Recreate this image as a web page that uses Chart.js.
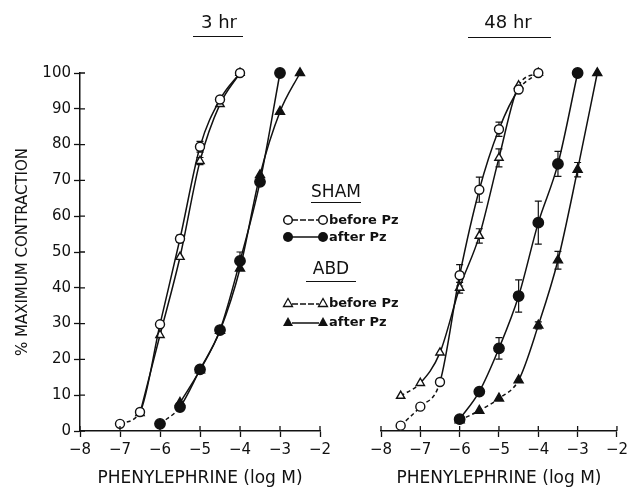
<!DOCTYPE html>
<html>
<head>
<meta charset="utf-8">
<script src="https://cdn.jsdelivr.net/npm/chart.js@4.4.1/dist/chart.umd.min.js"></script>
<style>
body { margin: 0; background: #fff; width: 632px; height: 489px; position: relative; overflow: hidden; font-family: "DejaVu Sans", sans-serif; color: #111; }
canvas { position: absolute; top: 0; }
.txt { position: absolute; white-space: nowrap; line-height: 20px; }
.rule { position: absolute; height: 0; border-top: 1.5px solid #111; }
.sym { position: absolute; }
</style>
</head>
<body>
<canvas id="graf3" width="340" height="489" style="left:0"></canvas>
<canvas id="graf48" width="302" height="489" style="left:330px"></canvas>

<div class="txt" style="left:219px;top:12px;font-size:18px;transform:translateX(-50%)">3 hr</div>
<div class="rule" style="left:193px;top:36px;width:50px"></div>
<div class="txt" style="left:508px;top:12px;font-size:18px;transform:translateX(-50%)">48 hr</div>
<div class="rule" style="left:468px;top:37px;width:83px"></div>

<!-- leyenda -->
<div class="txt" style="left:336px;top:181px;font-size:17px;transform:translateX(-50%)">SHAM</div>
<div class="rule" style="left:311px;top:202px;width:50px"></div>
<svg class="sym" style="left:280px;top:212px" width="50" height="16">
  <line x1="12" y1="8" x2="39" y2="8" stroke="#111" stroke-width="1.5" stroke-dasharray="6,2"/>
  <circle cx="8" cy="8" r="4.3" fill="#fff" stroke="#111" stroke-width="1.5"/>
  <circle cx="43" cy="8" r="4.3" fill="#fff" stroke="#111" stroke-width="1.5"/>
</svg>
<div class="txt" style="left:329px;top:210px;font-size:13px;font-weight:bold">before Pz</div>
<svg class="sym" style="left:280px;top:229px" width="50" height="16">
  <line x1="12" y1="8" x2="39" y2="8" stroke="#111" stroke-width="1.5"/>
  <circle cx="8" cy="8" r="5" fill="#111"/>
  <circle cx="43" cy="8" r="5" fill="#111"/>
</svg>
<div class="txt" style="left:329px;top:227px;font-size:13px;font-weight:bold">after Pz</div>

<div class="txt" style="left:331px;top:258px;font-size:17px;transform:translateX(-50%)">ABD</div>
<div class="rule" style="left:306px;top:281px;width:50px"></div>
<svg class="sym" style="left:280px;top:295px" width="50" height="16">
  <line x1="12" y1="9" x2="39" y2="9" stroke="#111" stroke-width="1.5" stroke-dasharray="6,2"/>
  <polygon points="8,3.5 12.5,11.5 3.5,11.5" fill="#fff" stroke="#111" stroke-width="1.3"/>
  <polygon points="43,3.5 47.5,11.5 38.5,11.5" fill="#fff" stroke="#111" stroke-width="1.3"/>
</svg>
<div class="txt" style="left:329px;top:293px;font-size:13px;font-weight:bold">before Pz</div>
<svg class="sym" style="left:280px;top:314px" width="50" height="16">
  <line x1="12" y1="9" x2="39" y2="9" stroke="#111" stroke-width="1.5"/>
  <polygon points="8,3 13,12 3,12" fill="#111"/>
  <polygon points="43,3 48,12 38,12" fill="#111"/>
</svg>
<div class="txt" style="left:329px;top:312px;font-size:13px;font-weight:bold">after Pz</div>

<script>
// Datos: log M de fenilefrina y % de contracción máxima

// 3 hr
const shamBefore3X = [-7, -6.5, -6, -5.5, -5, -4.5, -4];
const shamBefore3Y = [2, 5.3, 29.8, 53.7, 79.4, 92.6, 100];
const shamBefore3Err = [0, 0, 0, 1, 1.5, 0, 0];

const abdBefore3X = [-6.5, -6, -5.5, -5, -4.5, -4];
const abdBefore3Y = [5, 26.8, 48.6, 75.4, 91.3, 100];
const abdBefore3Err = [0, 0, 0, 1, 0, 0];

const shamAfter3X = [-6, -5.5, -5, -4.5, -4, -3.5, -3];
const shamAfter3Y = [2, 6.7, 17.2, 28.2, 47.5, 69.6, 100];
const shamAfter3Err = [0, 0, 0, 0, 2.5, 0, 0];

const abdAfter3X = [-5.5, -5, -4.5, -4, -3.5, -3, -2.5];
const abdAfter3Y = [7.9, 17, 28, 45.4, 71.5, 89.2, 100];
const abdAfter3Err = [0, 0, 0, 0, 0, 0, 0];

// 48 hr
const shamBefore48X = [-7.5, -7, -6.5, -6, -5.5, -5, -4.5, -4];
const shamBefore48Y = [1.5, 6.8, 13.7, 43.5, 67.4, 84.3, 95.4, 100];
const shamBefore48Err = [0, 0, 0, 3, 3.5, 2, 0, 0];

const abdBefore48X = [-7.5, -7, -6.5, -6, -5.5, -5, -4.5, -4];
const abdBefore48Y = [9.8, 13.4, 21.9, 40, 54.5, 76.3, 96.5, 100];
const abdBefore48Err = [0, 0, 0, 1.5, 2, 2.5, 0, 0];

const shamAfter48X = [-6, -5.5, -5, -4.5, -4, -3.5, -3];
const shamAfter48Y = [3.3, 11, 23.1, 37.7, 58.2, 74.6, 100];
const shamAfter48Err = [0, 0, 3, 4.5, 6, 3.5, 0];

const abdAfter48X = [-6, -5.5, -5, -4.5, -4, -3.5, -3, -2.5];
const abdAfter48Y = [3, 5.7, 9.1, 14.2, 29.5, 47.7, 73, 100];
const abdAfter48Err = [0, 0, 0, 0, 1, 2.5, 2, 0];

// Ejes
const xTicks = [-8, -7, -6, -5, -4, -3, -2];
const xTickLabels = ['\u22128', '\u22127', '\u22126', '\u22125', '\u22124', '\u22123', '\u22122'];
const yTicks = [0, 10, 20, 30, 40, 50, 60, 70, 80, 90, 100];
const yTickLabels = ['0', '10', '20', '30', '40', '50', '60', '70', '80', '90', '100'];

Chart.defaults.font.family = '"DejaVu Sans", sans-serif';
Chart.defaults.color = '#111';

// Estilos de marcadores
const abierto = { bg: '#fff' };
function serie(xs, ys, errs, estilo, relleno, radio) {
    return {
        data: xs.map((v, i) => ({ x: v, y: ys[i] })),
        err: errs,
        borderColor: '#111',
        borderWidth: 1.5,
        pointStyle: estilo,
        pointRadius: radio,
        pointBorderWidth: 1.4,
        pointBackgroundColor: relleno ? '#111' : '#fff',
        pointBorderColor: '#111',
        cubicInterpolationMode: 'monotone',
        clip: false,
        segment: {
            // segmentos cortos se ven discontinuos en el original
            borderDash: c => Math.hypot(c.p1.x - c.p0.x, c.p1.y - c.p0.y) < 33 ? [4, 3] : undefined
        }
    };
}

// Barras de error (SEM)
const barrasError = {
    id: 'barrasError',
    beforeDatasetsDraw(chart) {
        const { ctx, scales: { x, y } } = chart;
        ctx.save();
        ctx.strokeStyle = '#111';
        ctx.lineWidth = 1.2;
        chart.data.datasets.forEach(ds => {
            (ds.err || []).forEach((e, i) => {
                if (!e) return;
                const p = ds.data[i];
                const px = x.getPixelForValue(p.x);
                const arriba = y.getPixelForValue(p.y + e);
                const abajo = y.getPixelForValue(p.y - e);
                ctx.beginPath();
                ctx.moveTo(px, arriba); ctx.lineTo(px, abajo);
                ctx.moveTo(px - 3.5, arriba); ctx.lineTo(px + 3.5, arriba);
                ctx.moveTo(px - 3.5, abajo); ctx.lineTo(px + 3.5, abajo);
                ctx.stroke();
            });
        });
        ctx.restore();
    }
};

// Marcas que cruzan el eje (parte interior)
const marcasCruzadas = {
    id: 'marcasCruzadas',
    afterDraw(chart) {
        const { ctx, scales: { x, y } } = chart;
        ctx.save();
        ctx.strokeStyle = '#111';
        ctx.lineWidth = 1.3;
        ctx.beginPath();
        x.ticks.forEach(t => {
            const px = x.getPixelForValue(t.value);
            ctx.moveTo(px, x.top); ctx.lineTo(px, x.top - 5);
        });
        if (y.options.display) {
            y.ticks.forEach(t => {
                const py = y.getPixelForValue(t.value);
                ctx.moveTo(y.right, py); ctx.lineTo(y.right + 5, py);
            });
        }
        ctx.stroke();
        ctx.restore();
    }
};

function ejes(conY) {
    return {
        x: {
            type: 'linear',
            min: -8,
            max: -2,
            afterBuildTicks: s => { s.ticks = xTicks.map(v => ({ value: v })); },
            afterFit: s => { s.height = 58; },
            grid: { display: true, drawOnChartArea: false, tickLength: 6, tickColor: '#111', tickWidth: 1.3 },
            border: { display: true, color: '#111', width: 1.5 },
            ticks: {
                font: { size: 15 },
                padding: 4,
                maxRotation: 0,
                callback: v => xTickLabels[xTicks.indexOf(v)]
            },
            title: {
                display: true,
                text: 'PHENYLEPHRINE (log M)',
                font: { size: 17 },
                padding: { top: 0, bottom: 0 }
            }
        },
        y: {
            type: 'linear',
            display: conY,
            min: 0,
            max: 100,
            afterBuildTicks: s => { s.ticks = yTicks.map(v => ({ value: v })); },
            afterFit: s => { if (conY) s.width = 80; },
            grid: { display: true, drawOnChartArea: false, tickLength: 6, tickColor: '#111', tickWidth: 1.3 },
            border: { display: true, color: '#111', width: 1.5 },
            ticks: {
                font: { size: 15 },
                padding: 3,
                callback: v => yTickLabels[yTicks.indexOf(v)]
            },
            title: {
                display: true,
                text: '% MAXIMUM CONTRACTION',
                font: { size: 15 },
                padding: { top: 14, bottom: 0 }
            }
        }
    };
}

const opcionesBase = {
    responsive: false,
    animation: false,
    plugins: { legend: { display: false }, tooltip: { enabled: false } }
};

new Chart(document.getElementById('graf3').getContext('2d'), {
    type: 'line',
    data: {
        datasets: [
            serie(shamBefore3X, shamBefore3Y, shamBefore3Err, 'circle', false, 4.5),
            serie(abdBefore3X, abdBefore3Y, abdBefore3Err, 'triangle', false, 4.8),
            serie(shamAfter3X, shamAfter3Y, shamAfter3Err, 'circle', true, 5.2),
            serie(abdAfter3X, abdAfter3Y, abdAfter3Err, 'triangle', true, 5.2)
        ]
    },
    options: {
        ...opcionesBase,
        layout: { padding: { top: 73, right: 20, left: 0, bottom: 0 } },
        scales: ejes(true)
    },
    plugins: [barrasError, marcasCruzadas]
});

new Chart(document.getElementById('graf48').getContext('2d'), {
    type: 'line',
    data: {
        datasets: [
            serie(shamBefore48X, shamBefore48Y, shamBefore48Err, 'circle', false, 4.5),
            serie(abdBefore48X, abdBefore48Y, abdBefore48Err, 'triangle', false, 4.8),
            serie(shamAfter48X, shamAfter48Y, shamAfter48Err, 'circle', true, 5.2),
            serie(abdAfter48X, abdAfter48Y, abdAfter48Err, 'triangle', true, 5.2)
        ]
    },
    options: {
        ...opcionesBase,
        layout: { padding: { top: 73, right: 11, left: 51, bottom: 0 } },
        scales: ejes(false)
    },
    plugins: [barrasError, marcasCruzadas]
});
</script>
</body>
</html>
